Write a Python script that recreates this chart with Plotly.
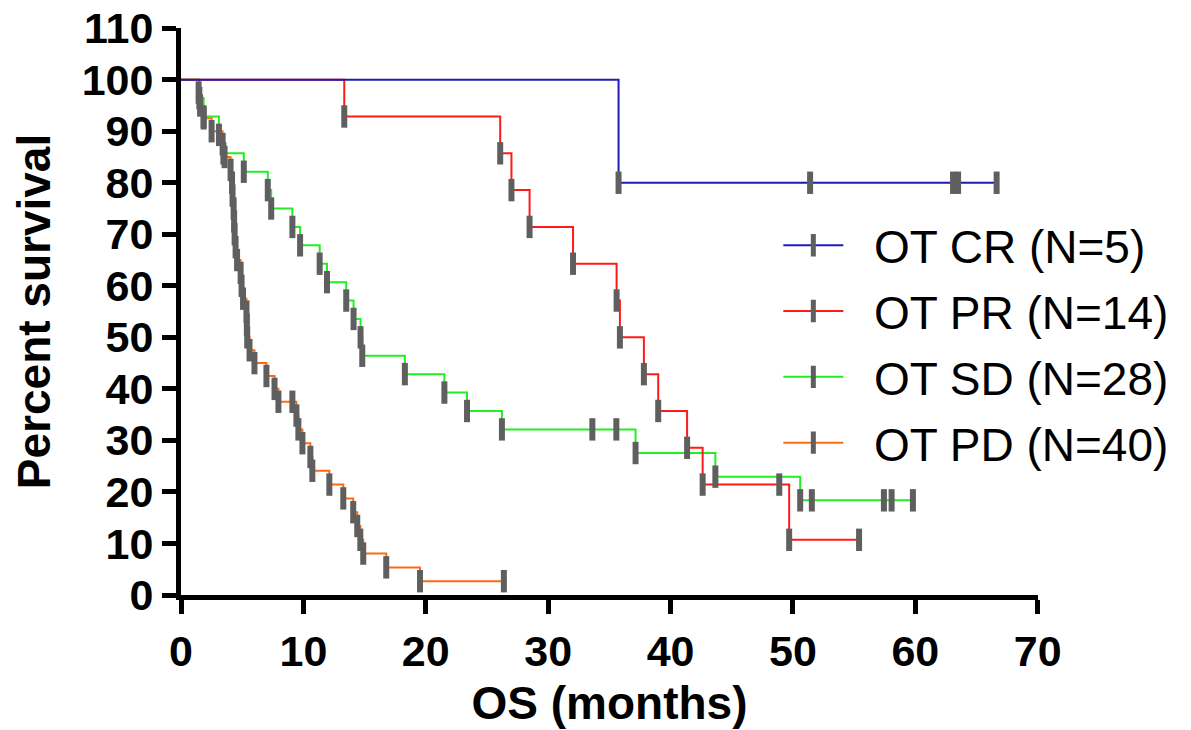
import plotly.graph_objects as go

# ---- data (months, percent survival) ----
cr_t = [0, 35.75, 51.4, 63.08, 63.49, 66.64]
cr_s = [100, 80, 80, 80, 80, 80]

pr_t = [0, 13.34, 26.08, 27.0, 28.48, 32.03, 35.59, 35.86, 37.82, 38.99, 41.35, 42.62, 48.88, 49.69, 55.4]
pr_s = [100, 92.86, 85.71, 78.57, 71.43, 64.29, 57.14, 50.0, 42.86, 35.71, 28.57, 21.43, 21.43, 10.71, 10.71]

sd_t = [0, 1.5, 1.85, 3.1, 3.46, 5.13, 7.09, 7.37, 9.1, 9.73, 11.33, 11.93, 13.5, 14.1, 14.67, 14.81,
        18.29, 21.52, 23.37, 26.22, 33.61, 35.57, 37.14, 43.66, 50.59, 51.54, 57.43, 58.06, 59.8]
sd_s = [100, 96.43, 92.86, 89.29, 85.71, 82.14, 78.57, 75.0, 71.43, 67.86, 64.29, 60.71, 57.14, 53.57, 50.0, 46.43,
        42.86, 39.29, 35.71, 32.14, 32.14, 32.14, 27.55, 22.96, 18.37, 18.37, 18.37, 18.37, 18.37]

pd_t = [0, 1.44, 1.56, 1.85, 2.5, 3.4, 3.56, 4.05, 4.17, 4.21, 4.3, 4.34, 4.38, 4.46, 4.58, 4.87, 4.95, 5.07,
        5.35, 5.38, 5.41, 5.6, 6.0, 6.98, 7.64, 7.96, 9.1, 9.43, 9.59, 9.92, 10.57, 10.73, 12.12, 13.26,
        14.07, 14.4, 14.65, 14.89, 16.77, 19.53, 26.38]
pd_s = [100, 97.5, 95, 92.5, 90, 87.5, 85, 82.5, 80, 77.5, 75, 72.5, 70, 67.5, 65, 62.5, 60, 57.5,
        55, 52.5, 50, 47.5, 45, 42.5, 40, 37.5, 37.5, 34.82, 32.14, 29.46, 26.79, 24.11, 21.43, 18.75,
        16.07, 13.39, 10.71, 8.04, 5.36, 2.68, 2.68]

x_ticks = [0, 10, 20, 30, 40, 50, 60, 70]
y_ticks = [0, 10, 20, 30, 40, 50, 60, 70, 80, 90, 100, 110]

series = [
    ("OT CR (N=5)", cr_t, cr_s, "#1c1cb4"),
    ("OT PR (N=14)", pr_t, pr_s, "#ff1a1a"),
    ("OT SD (N=28)", sd_t, sd_s, "#22ee22"),
    ("OT PD (N=40)", pd_t, pd_s, "#ff6a10"),
]

MARK_COLOR = "#5f5f5f"
FONT = "Liberation Sans, Arial, sans-serif"

fig = go.Figure()

# lines (drawn bottom to top: PD, SD, PR, CR)
for name, t, s, col in reversed(series):
    fig.add_trace(go.Scatter(x=t, y=s, mode="lines", line=dict(color=col, width=2, shape="hv"),
                             showlegend=False, hoverinfo="skip", cliponaxis=False))

# tick marks at each step point (not the starting point)
for name, t, s, col in reversed(series):
    fig.add_trace(go.Scatter(x=t[1:], y=s[1:], mode="markers",
                             marker=dict(symbol="line-ns", size=16, color=MARK_COLOR,
                                         line=dict(color=MARK_COLOR, width=6)),
                             showlegend=False, hoverinfo="skip", cliponaxis=False))

# legend entries
for i, (name, t, s, col) in enumerate(series):
    fig.add_trace(go.Scatter(x=[None], y=[None], mode="lines+markers", name="\u00a0\u00a0" + name,
                             legendgroup=str(i),
                             line=dict(color=col, width=2),
                             marker=dict(symbol="line-ns", size=16, color=MARK_COLOR,
                                         line=dict(color=MARK_COLOR, width=6))))

axis_common = dict(
    showgrid=False, zeroline=False, showline=True, linecolor="black", linewidth=5,
    ticks="outside", ticklen=14, tickwidth=5, tickcolor="black", automargin=False,
    ticklabeloverflow="allow",
    tickfont=dict(family=FONT, size=43, color="black", weight="bold"),
)

fig.update_layout(
    width=1183, height=722,
    margin=dict(l=173, r=153, t=20, b=135),
    paper_bgcolor="white", plot_bgcolor="white",
    xaxis=dict(range=[0, 70.02], tickvals=x_ticks, ticktext=[str(v) for v in x_ticks],
               title=dict(text="OS (months)", font=dict(family=FONT, size=46, color="black", weight="bold"),
                          standoff=15),
               **axis_common),
    yaxis=dict(range=[0, 110.03], tickvals=y_ticks, ticktext=[str(v) for v in y_ticks],
               title=dict(text="Percent survival", font=dict(family=FONT, size=46, color="black", weight="bold"),
                          standoff=26),
               **axis_common),
    legend=dict(x=0.697, y=0.681, xanchor="left", yanchor="top", bgcolor="rgba(0,0,0,0)",
                font=dict(family=FONT, size=46, color="black"), itemwidth=60, tracegroupgap=3),
    showlegend=True,
)

fig.write_html("out.html")
